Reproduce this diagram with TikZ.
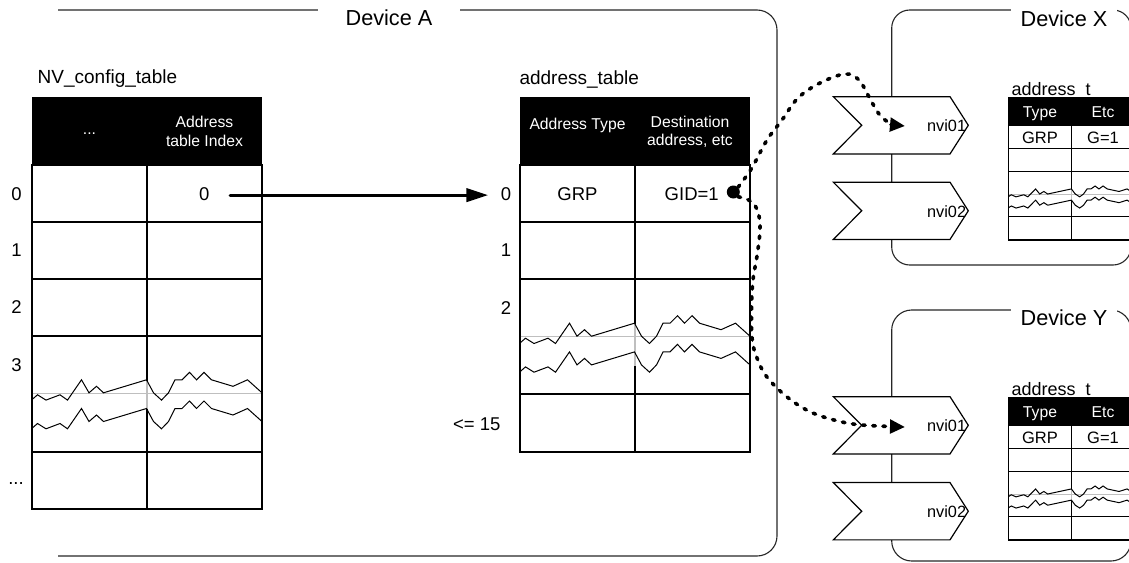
\documentclass[tikz,border=0pt]{standalone}
\usepackage{fontspec}
\setmainfont{Liberation Sans}
\usetikzlibrary{arrows.meta,calc}
\newcommand{\tearzig}{(0,6.3) -- (5.5,1.5) -- (14,6.8) -- (28,1.5) -- (35.5,6.8) -- (49.5,-13.5) -- (57,-0.5) -- (64.5,-7) -- (71.5,-0.5) -- (114.5,-13.5) -- (121.5,-0.5) -- (129.5,6.8) -- (136.5,-0.5) -- (143,-13.5) -- (150,-13.5) -- (157.5,-21) -- (164.5,-13.5) -- (172,-21) -- (179.5,-13.5) -- (201,-7) -- (215.5,-13.5) -- (230,-0.5)}
\tikzset{
 frame/.style={draw=black!85, line width=1.1pt},
 tline/.style={draw=black, line width=1.2pt},
 zig/.style={draw=black, line width=1pt, line join=miter},
 tear/.style={draw=black!25, line width=1.3pt},
 titletxt/.style={font=\fontsize{19}{22}\selectfont, inner sep=0pt},
 bigtxt/.style={font=\fontsize{18.5}{22}\selectfont, inner sep=2pt},
 hdrtxt/.style={font=\fontsize{15.7}{18.3}\selectfont, text=white, align=center, inner sep=0pt},
 devtxt/.style={font=\fontsize{21.7}{26}\selectfont, inner sep=0pt},
 nvitxt/.style={font=\fontsize{16.3}{19}\selectfont, inner sep=0pt},
 smhdr/.style={font=\fontsize{15.7}{18}\selectfont, text=white, inner sep=0pt},
 smcell/.style={font=\fontsize{16.5}{19}\selectfont, inner sep=0pt},
 smlbl/.style={font=\fontsize{18}{20}\selectfont, inner sep=0pt},
 bigarrow/.style={line width=3pt, line cap=round, -{Triangle[length=21.7pt,width=13.3pt]}},
 dotarrow/.style={line width=3.6pt, line cap=round, dash pattern=on 2.6pt off 7.6pt, -{Triangle[length=15pt,width=13.5pt]}},
 chevbox/.style={minimum width=135pt, minimum height=57.3pt, inner sep=0pt, outer sep=0pt},
}
\newcommand{\mychev}[4]{%
 \node[chevbox] (#1) at (#2,#3) {};
 \draw[fill=white, draw=black, line width=1.2pt] (#1.north west) -- ($(#1.north east)+(-18.3,0)$) -- (#1.east) -- ($(#1.south east)+(-18.3,0)$) -- (#1.south west) -- ($(#1.west)+(28.4,0)$) -- cycle;
 \node[nvitxt, anchor=base east] (#1t) at ($(#1.center)+(65.5,6.2)$) {#4};
}
\newcommand{\smalltab}[2]{%
\begin{scope}[shift={(0,#1)}]
 \node[smlbl, anchor=base west] (#2lbl) at (1011.5,95) {address\_t};
 \fill (1008.3,97.3) rectangle (1135,125);
 \draw[tline] (1008.3,125) rectangle (1135,240);
 \draw[tline] (1008.3,148.3) -- (1135,148.3) (1008.3,171.7) -- (1135,171.7) (1008.3,216.7) -- (1135,216.7);
 \draw[tline] (1071.7,125) -- (1071.7,188.9) (1071.7,200.1) -- (1071.7,240);
 \draw[tear] (1009,194.2) -- (1134.5,194.2) (1071.7,188.9) -- (1071.7,200.1);
 \begin{scope}[shift={(1008.3,194.2)},xscale=0.551,yscale=0.39]
   \draw[zig] \tearzig;
   \begin{scope}[shift={(0,28.7)}] \draw[zig] \tearzig; \end{scope}
 \end{scope}
 \node[smhdr, anchor=base] (#2h1) at (1040,117.3) {Type};
 \node[smhdr, anchor=base] (#2h2) at (1103,117.3) {Etc};
 \node[smcell, anchor=base] (#2c1) at (1040,143.3) {GRP};
 \node[smcell, anchor=base] (#2c2) at (1103,143.3) {G=1};
\end{scope}}
\begin{document}
\begin{tikzpicture}[x=1pt,y=-1pt]
\useasboundingbox (0,0) rectangle (1129,562);
\clip (0,0) rectangle (1129,562);

% ---------- Device A frame ----------
\draw[frame, rounded corners=20] (58,10) -- (777,10) -- (777,556) -- (58,556);
\node[devtxt, fill=white, inner xsep=28pt, inner ysep=3pt] (devA) at (389,18) {Device A};

% ---------- Device X / Y frames ----------
\draw[frame, rounded corners=18] (891.7,10) rectangle (1131,265);
\node[devtxt, fill=white, inner xsep=9.5pt, inner ysep=3pt] (devX) at (1064,19) {Device X};
\draw[frame, rounded corners=20] (891.7,310) rectangle (1131,561);
\node[devtxt, fill=white, inner xsep=9.5pt, inner ysep=3pt] (devY) at (1064,318) {Device Y};

% ---------- NV_config_table ----------
\node[titletxt, anchor=base west] (nvlbl) at (37.5,83.5) {NV\_config\_table};
\fill (32,97) rectangle (262,165);
\draw[tline] (32,165) rectangle (262,509);
\draw[tline] (32,222) -- (262,222) (32,279) -- (262,279) (32,336) -- (262,336) (32,452) -- (262,452);
\draw[tline] (147,165) -- (147,380.5) (147,408.8) -- (147,509);
\draw[tear] (32.6,393.3) -- (261.4,393.3) (147,380.5) -- (147,408.8);
\begin{scope}[shift={(32,393.3)}]
  \draw[zig] \tearzig;
  \begin{scope}[shift={(0,28.7)}] \draw[zig] \tearzig; \end{scope}
\end{scope}
\node[hdrtxt, anchor=base] (nvh1) at (89.5,134.5) {...};
\node[hdrtxt] (nvh2) at (204.5,131.5) {Address\\table Index};
\node[bigtxt, anchor=base] (nv0) at (204.3,200) {0};
\node[bigtxt, anchor=base] (nr0) at (16.5,200) {0};
\node[bigtxt, anchor=base] (nr1) at (16.5,256.6) {1};
\node[bigtxt, anchor=base] (nr2) at (16.5,313.6) {2};
\node[bigtxt, anchor=base] (nr3) at (16.5,371) {3};
\node[bigtxt, anchor=base] (nr4) at (16,484) {...};

% ---------- address_table ----------
\node[titletxt, anchor=base west] (adlbl) at (519.3,84) {address\_table};
\fill (520,97) rectangle (750,165);
\draw[tline] (520,165) rectangle (750,452);
\draw[tline] (520,222) -- (750,222) (520,279) -- (750,279) (520,394) -- (750,394);
\draw[tline] (635,165) -- (635,323.6) (635,365.6) -- (635,452);
\draw[tear] (520.6,336.7) -- (749.4,336.7) (635,323.6) -- (635,365.6);
\begin{scope}[shift={(520,336.7)}]
  \draw[zig] \tearzig;
  \begin{scope}[shift={(0,28.7)}] \draw[zig] \tearzig; \end{scope}
\end{scope}
\node[hdrtxt, anchor=base] (adh1) at (577.5,129.5) {Address Type};
\node[hdrtxt] (adh2) at (690,131.5) {Destination\\address, etc};
\node[bigtxt, anchor=base] (adc1) at (577.5,200) {GRP};
\node[bigtxt, anchor=base] (adc2) at (691.7,200) {GID=1};
\node[bigtxt, anchor=base] (ad0) at (506,200) {0};
\node[bigtxt, anchor=base] (ad1) at (506,256.6) {1};
\node[bigtxt, anchor=base] (ad2) at (506,314.3) {2};
\node[bigtxt, anchor=base] (ad15) at (476.7,430) {<= 15};

% ---------- small tables ----------
\smalltab{0}{tx}
\smalltab{300}{ty}

% ---------- chevrons ----------
\mychev{xn1}{900.8}{125.3}{nvi01}
\mychev{xn2}{900.8}{210.8}{nvi02}
\mychev{yn1}{900.8}{425.3}{nvi01}
\mychev{yn2}{900.8}{511.2}{nvi02}

% ---------- connectors ----------
\draw[bigarrow] ($(nv0.east)+(18.5,1.5)$) -- ($(ad0.west)+(-10.5,1.5)$);

\coordinate (xtip) at (905,126);
\coordinate (ytip) at (905,427);
\node[circle, fill=black, minimum size=13pt, inner sep=0pt] (gdot) at (733.3,192) {};
\draw[dotarrow] plot[smooth, tension=0.6] coordinates {(gdot.north east) (745,178) (753,166) (767,140) (782,120) (798,98) (820,83) (845,74) (859,80) (869,97) (879,114) (890,123) (xtip)};
\draw[dotarrow] plot[smooth, tension=0.6] coordinates {(gdot.south east) (751.7,201.7) (758.3,213.3) (760,230) (757,256) (753,280) (751.5,310) (752.3,340) (757,358) (766.7,376.7) (786.7,396.7) (810,411.7) (836.7,420.7) (862,425) (ytip)};
\end{tikzpicture}
\end{document}
